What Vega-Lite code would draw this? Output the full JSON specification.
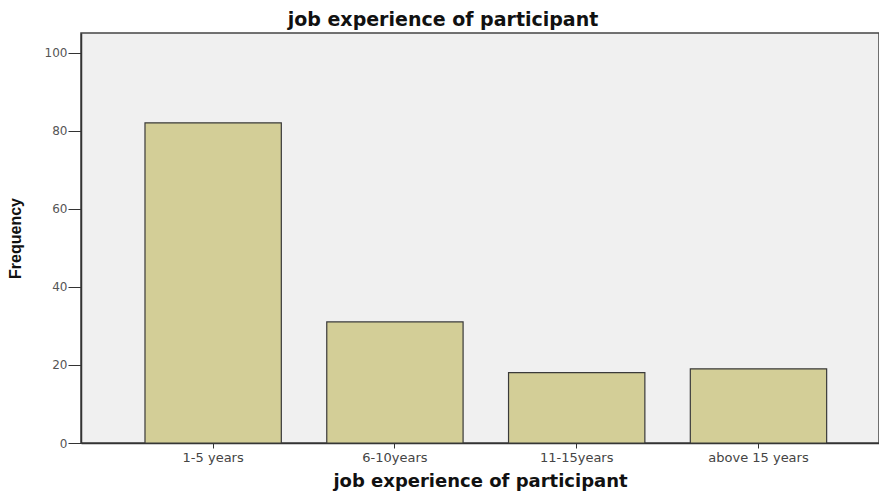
{
  "$schema": "https://vega.github.io/schema/vega-lite/v6.json",
  "autosize": {"type": "none"},
  "padding": {"left": 81, "top": 33, "right": 0, "bottom": 49},
  "width": 798,
  "height": 410,
  "background": "white",
  "title": {
    "text": "job experience of participant",
    "font": "DejaVu Sans",
    "fontSize": 19,
    "fontWeight": "bold",
    "color": "#111",
    "anchor": "middle",
    "dx": -37,
    "offset": 3
  },
  "data": {
    "values": [
      {"experience": "1-5 years", "frequency": 82},
      {"experience": "6-10years", "frequency": 31},
      {"experience": "11-15years", "frequency": 18},
      {"experience": "above 15 years", "frequency": 19}
    ]
  },
  "mark": {"type": "bar", "fill": "#d3ce97", "stroke": "#3a3a3a", "strokeWidth": 1.2},
  "encoding": {
    "x": {
      "field": "experience",
      "type": "nominal",
      "sort": null,
      "scale": {"paddingInner": 0.25, "paddingOuter": 0.32, "align": 0.55},
      "axis": {
        "title": "job experience of participant",
        "titleFont": "DejaVu Sans",
        "titleFontSize": 18,
        "titleFontWeight": "bold",
        "titleColor": "#111",
        "titlePadding": 8,
        "labelAngle": 0,
        "labelFont": "DejaVu Sans",
        "labelFontSize": 13,
        "labelColor": "#444",
        "labelPadding": 3,
        "tickSize": 5,
        "tickColor": "#333",
        "domainColor": "#333",
        "domainWidth": 1.5
      }
    },
    "y": {
      "field": "frequency",
      "type": "quantitative",
      "scale": {"domain": [0, 105], "nice": false},
      "axis": {
        "title": "Frequency",
        "titleFont": "Liberation Sans",
        "titleFontSize": 16,
        "titleFontWeight": "bold",
        "titleColor": "#111",
        "titlePadding": 21,
        "values": [0, 20, 40, 60, 80, 100],
        "grid": false,
        "labelFont": "DejaVu Sans",
        "labelFontSize": 12,
        "labelColor": "#555",
        "labelPadding": 1,
        "tickSize": 13,
        "tickColor": "#333",
        "domainColor": "#333",
        "domainWidth": 1.5
      }
    }
  },
  "config": {
    "view": {"fill": "#f0f0f0", "stroke": "#444", "strokeWidth": 1.5}
  }
}
